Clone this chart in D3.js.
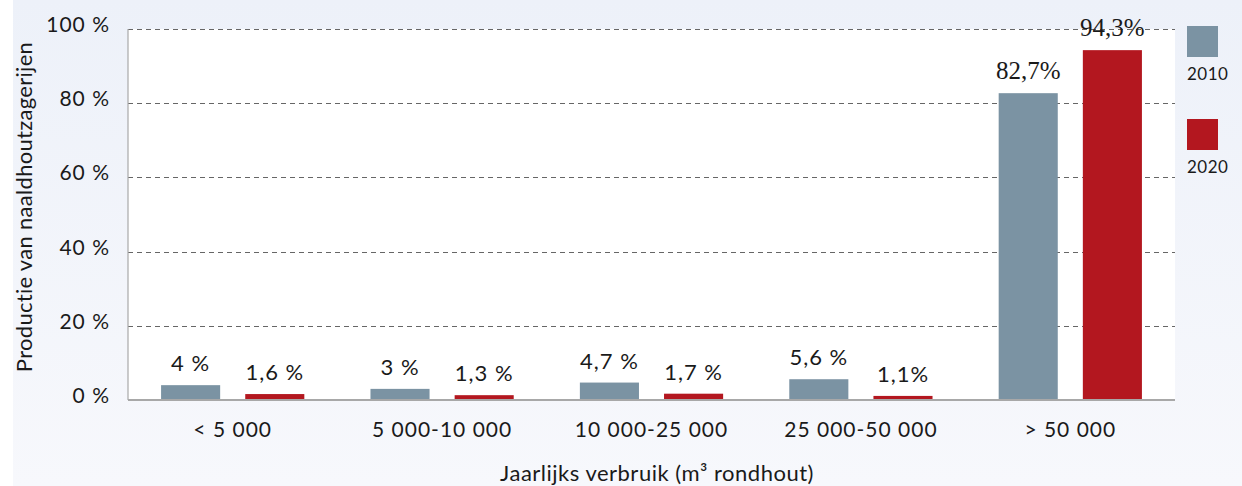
<!DOCTYPE html>
<html><head><meta charset="utf-8">
<script src="https://cdn.jsdelivr.net/npm/d3@7/dist/d3.min.js"></script>
<style>html,body{margin:0;padding:0;background:#fff;}svg{display:block;}</style>
</head><body>
<svg id="c" width="1242" height="486"></svg>
<script>
const categories = ["< 5 000", "5 000-10 000", "10 000-25 000", "25 000-50 000", "> 50 000"];
const seriesNames = ["2010", "2020"];
const values2010 = [4, 3, 4.7, 5.6, 82.7];
const values2020 = [1.6, 1.3, 1.7, 1.1, 94.3];
const labels2010 = ["4 %", "3 %", "4,7 %", "5,6 %", "82,7%"];
const labels2020 = ["1,6 %", "1,3 %", "1,7 %", "1,1%", "94,3%"];
const yTicks = [0, 20, 40, 60, 80, 100];
const yTickLabels = ["0 %", "20 %", "40 %", "60 %", "80 %", "100 %"];
const colors = ["#7b93a3", "#b3171f"];

const W = 1242, H = 486;
const L = 128, R = 1175, T = 29, B = 400;
const sans = "Lato, 'Open Sans', sans-serif";
const ink = "#1a1a1a";
const svg = d3.select("#c");

const defs = svg.append("defs");
const g = defs.append("linearGradient").attr("id","bg").attr("x1",0).attr("y1",0).attr("x2",0).attr("y2",1);
g.append("stop").attr("offset","0%").attr("stop-color","#edf1f9");
g.append("stop").attr("offset","100%").attr("stop-color","#f7f8fc");
svg.append("rect").attr("width",W).attr("height",H).attr("fill","#ffffff");
svg.append("rect").attr("x",13).attr("width",W-13).attr("height",H).attr("fill","url(#bg)");

const x0 = d3.scaleBand().domain(categories).range([L, R]).padding(0);
const x1 = d3.scaleBand().domain(seriesNames).range([0, x0.bandwidth()]).paddingInner(0.298).paddingOuter(0.393);
const y = d3.scaleLinear().domain([0, 100]).range([B, T]);

svg.append("rect").attr("x",L).attr("y",T).attr("width",R-L).attr("height",B-T).attr("fill","#ffffff");

// grid
svg.append("g").selectAll("line").data(yTicks.filter(d=>d>0)).join("line")
  .attr("x1",L).attr("x2",R).attr("y1",d=>Math.round(y(d))+0.5).attr("y2",d=>Math.round(y(d))+0.5)
  .attr("stroke","#666").attr("stroke-width",1).attr("stroke-dasharray","5,4");

// y axis labels
svg.append("g").selectAll("text").data(yTicks).join("text")
  .attr("x",L-18).attr("y",d=>y(d)+3).attr("text-anchor","end")
  .attr("font-family",sans).attr("font-size",21).attr("letter-spacing",1).attr("fill",ink)
  .text((d,i)=>yTickLabels[i]);

// bars
const data = categories.map((c,i)=>({c, vals:[values2010[i], values2020[i]], labs:[labels2010[i], labels2020[i]]}));
const grp = svg.append("g").selectAll("g").data(data).join("g").attr("transform",d=>`translate(${x0(d.c)},0)`);
grp.selectAll("rect").data(d=>d.vals.map((v,k)=>({k,v}))).join("rect")
  .attr("x",d=>x1(seriesNames[d.k])).attr("width",x1.bandwidth())
  .attr("y",d=>y(d.v)).attr("height",d=>B-y(d.v)).attr("fill",d=>colors[d.k]);
grp.selectAll("text").data(d=>d.vals.map((v,k)=>({k,v,lab:d.labs[k]}))).join("text")
  .attr("x",d=>x1(seriesNames[d.k])+x1.bandwidth()/2).attr("y",d=>y(d.v)-14)
  .attr("text-anchor","middle")
  .attr("font-family",d=>d.v>50?"'Liberation Serif', serif":sans)
  .attr("letter-spacing",d=>d.v>50?0:1)
  .attr("font-size",d=>d.v>50?25:22).attr("fill",ink).text(d=>d.lab);

// axes lines
svg.append("line").attr("x1",L).attr("x2",L).attr("y1",T).attr("y2",B).attr("stroke","#a8a8a8").attr("stroke-width",1.2);
svg.append("line").attr("x1",L).attr("x2",R).attr("y1",B).attr("y2",B).attr("stroke","#a8a8a8").attr("stroke-width",2);

// x labels
svg.append("g").selectAll("text").data(categories).join("text")
  .attr("x",d=>x0(d)+x0.bandwidth()/2).attr("y",437).attr("text-anchor","middle")
  .attr("font-family",sans).attr("font-size",21).attr("letter-spacing",1).attr("fill",ink).text(d=>d);

// titles
svg.append("text").attr("x",657).attr("y",481).attr("text-anchor","middle")
  .attr("font-family",sans).attr("font-size",22).attr("letter-spacing",0.5).attr("fill",ink).text("Jaarlijks verbruik (m³ rondhout)");
svg.append("text").attr("transform","translate(32,207) rotate(-90)").attr("text-anchor","middle")
  .attr("font-family",sans).attr("font-size",22).attr("letter-spacing",0.3).attr("fill",ink).text("Productie van naaldhoutzagerijen");

// legend
const leg = svg.append("g").selectAll("g").data(seriesNames).join("g").attr("transform",(d,i)=>`translate(1187,${26+i*93})`);
leg.append("rect").attr("width",31).attr("height",31).attr("fill",(d,i)=>colors[i]);
leg.append("text").attr("x",0).attr("y",54).attr("font-family",sans).attr("font-size",17).attr("letter-spacing",0.5).attr("fill",ink).text(d=>d);
</script>
</body></html>
